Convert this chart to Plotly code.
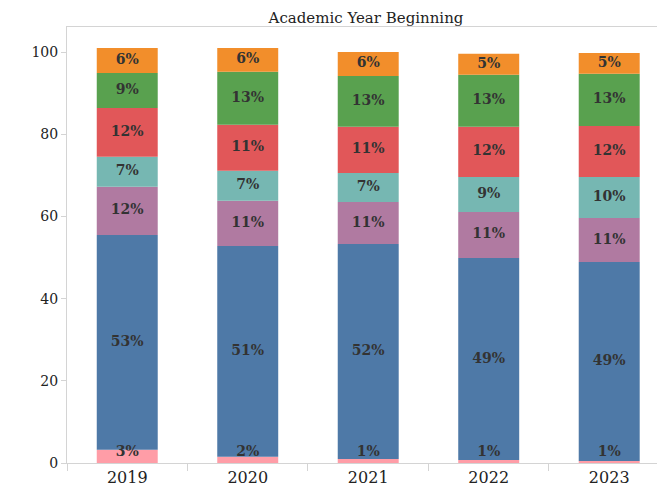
import numpy as np
import plotly.graph_objects as go

years = ["2019", "2020", "2021", "2022", "2023"]

# segment heights (percent), bottom to top
pink   = [3.2, 1.5, 1.0, 0.7, 0.5]
blue   = [52.3, 51.3, 52.3, 49.2, 48.4]
purple = [11.7, 11.0, 10.2, 11.2, 10.7]
teal   = [7.3, 7.3, 7.1, 8.5, 10.0]
red    = [11.9, 11.2, 11.2, 12.2, 12.4]
green  = [8.5, 12.9, 12.4, 12.7, 12.7]
orange = [6.1, 5.8, 5.8, 5.1, 5.1]

# printed labels
pink_lbl   = [3, 2, 1, 1, 1]
blue_lbl   = [53, 51, 52, 49, 49]
purple_lbl = [12, 11, 11, 11, 11]
teal_lbl   = [7, 7, 7, 9, 10]
red_lbl    = [12, 11, 11, 12, 12]
green_lbl  = [9, 13, 13, 13, 13]
orange_lbl = [6, 6, 6, 5, 5]

series = [
    ("pink", pink, pink_lbl, "#FF9DA7"),
    ("blue", blue, blue_lbl, "#4E79A7"),
    ("purple", purple, purple_lbl, "#B07AA1"),
    ("teal", teal, teal_lbl, "#76B7B2"),
    ("red", red, red_lbl, "#E15759"),
    ("green", green, green_lbl, "#59A14F"),
    ("orange", orange, orange_lbl, "#F28E2B"),
]

SERIF = "DejaVu Serif, Georgia, serif"
LABEL_MIN_Y = 2.6  # labels are kept inside the plot area, as in the original

fig = go.Figure()
base = np.zeros(len(years))
label_traces = []
for name, vals, lbls, col in series:
    v = np.array(vals, dtype=float)
    fig.add_trace(go.Bar(
        x=years, y=v, base=base.copy(), name=name,
        marker=dict(color=col, line=dict(width=0)),
        hoverinfo="skip",
    ))
    mid = np.maximum(base + v / 2, LABEL_MIN_Y)
    label_traces.append(go.Scatter(
        x=years, y=mid, mode="text",
        text=[f"{l}%" for l in lbls],
        textposition="middle center",
        textfont=dict(family=SERIF, size=14, color="#333333", weight="bold"),
        hoverinfo="skip", cliponaxis=False,
    ))
    base = base + v
for t in label_traces:
    fig.add_trace(t)

# the page body has an 8px margin, so the figure is sized to end at the window edge
W, H = 657, 483
fig.update_layout(
    width=W, height=H,
    barmode="overlay",
    bargap=0.494,
    showlegend=False,
    plot_bgcolor="white",
    paper_bgcolor="white",
    margin=dict(l=59, r=0, t=19, b=28, autoexpand=False),
    title=dict(text="Academic Year Beginning", x=0.5, xref="paper",
               y=1 - 10 / H, yanchor="middle", xanchor="center",
               font=dict(family=SERIF, size=15, color="#222222")),
    font=dict(family=SERIF, color="#222222"),
)
fig.update_xaxes(
    type="category", automargin=False,
    range=[-0.5, 4.463],
    showline=True, linecolor="#d4d4d4", linewidth=1, mirror=True,
    ticks="outside", tickson="boundaries", ticklen=7, tickcolor="#d4d4d4",
    tickfont=dict(family=SERIF, size=16, color="#222222"),
    showgrid=False, zeroline=False,
)
fig.update_yaxes(
    automargin=False,
    range=[0, 106.1],
    tickvals=[0, 20, 40, 60, 80, 100],
    showline=True, linecolor="#d4d4d4", linewidth=1,
    ticks="outside", ticklen=5, tickcolor="#d4d4d4",
    tickfont=dict(family=SERIF, size=14, color="#222222"),
    showgrid=False, zeroline=False,
)

fig.write_html("out.html")
